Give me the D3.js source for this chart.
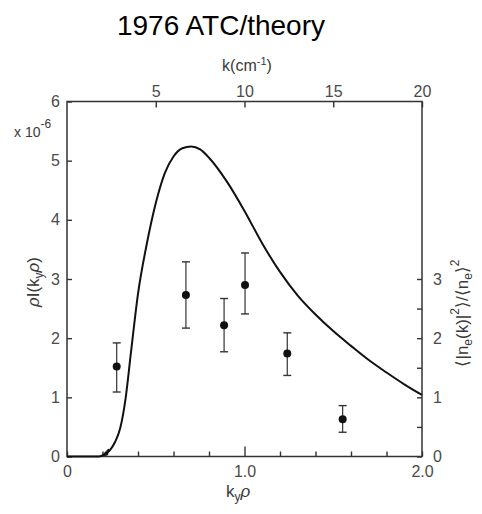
<!DOCTYPE html>
<head>
    <script src="https://cdn.jsdelivr.net/npm/d3@7"></script>
    <style>
        body { margin: 0; background: #fff; }
        .tick text { font: 16px "Liberation Sans", Arial, sans-serif; fill: #4a4a4a; }
        .tick line { stroke: #333; stroke-width: 1.4px; }
        .lbl { font-family: "Liberation Sans", Arial, sans-serif; fill: #3a3a3a; }
    </style>
</head>
<body>
<script>
    // theory curve
    var curveX = [0, 0.10, 0.18, 0.20, 0.24, 0.27, 0.30, 0.33, 0.36, 0.40, 0.45, 0.50, 0.55,
        0.60, 0.65, 0.70, 0.75, 0.80, 0.90, 1.00, 1.10, 1.20, 1.30, 1.40, 1.50, 1.60,
        1.70, 1.80, 1.90, 2.00];
    var curveY = [0, 0, 0, 0.02, 0.10, 0.24, 0.48, 0.98, 1.75, 2.75, 3.60, 4.28, 4.78,
        5.07, 5.21, 5.24, 5.19, 5.05, 4.65, 4.15, 3.60, 3.12, 2.72, 2.40, 2.12, 1.87,
        1.63, 1.42, 1.22, 1.04];

    // measured points with error bars
    var pointX = [0.28, 0.67, 0.885, 1.003, 1.241, 1.553];
    var pointY = [1.52, 2.73, 2.22, 2.90, 1.74, 0.63];
    var errHi = [1.92, 3.29, 2.67, 3.44, 2.09, 0.86];
    var errLo = [1.09, 2.17, 1.77, 2.41, 1.37, 0.41];

    var bottomTicks = [0, 0.2, 0.4, 0.6, 0.8, 1.0, 1.2, 1.4, 1.6, 1.8, 2.0];
    var bottomLabels = { "0": "0", "1": "1.0", "2": "2.0" };
    var leftTicks = [0, 1, 2, 3, 4, 5, 6];
    var rightTicks = [0, 0.5, 1, 1.5, 2, 2.5, 3];
    var topTicks = [5, 10, 15, 20];

    var W = 482, H = 514;
    var pL = 67, pR = 422, pT = 101.5, pB = 456.5;

    var svg = d3.select("body").append("svg")
        .attr("width", W)
        .attr("height", H);

    var x = d3.scaleLinear().domain([0, 2]).range([pL, pR]);
    var y = d3.scaleLinear().domain([0, 6]).range([pB, pT]);
    var k = d3.scaleLinear().domain([0, 20]).range([pL, pR]);

    // title
    svg.append("text")
        .attr("x", 221).attr("y", 35)
        .attr("text-anchor", "middle")
        .style("font", "28px 'Liberation Sans', Arial, sans-serif")
        .style("fill", "#000")
        .text("1976 ATC/theory");

    // bottom axis
    var gB = svg.append("g")
        .attr("transform", "translate(0," + pB + ")")
        .call(d3.axisBottom(x).tickValues(bottomTicks).tickSize(-5).tickSizeOuter(0).tickPadding(9)
            .tickFormat(function (d) {
                var key = String(Math.round(d * 10) / 10);
                return bottomLabels[key] || "";
            }));
    gB.selectAll(".tick line").attr("y2", function (d) { return Math.abs(d - 1) < 1e-9 ? -10 : -5; });

    // left axis
    svg.append("g")
        .attr("transform", "translate(" + pL + ",0)")
        .call(d3.axisLeft(y).tickValues(leftTicks).tickSize(-5).tickSizeOuter(0).tickPadding(7)
            .tickFormat(d3.format("d")));

    // right axis
    svg.append("g")
        .attr("transform", "translate(" + pR + ",0)")
        .call(d3.axisRight(y).tickValues(rightTicks).tickSize(-5).tickSizeOuter(0).tickPadding(11)
            .tickFormat(function (d) { return d % 1 === 0 ? d : ""; }));

    // top axis, k in cm^-1
    svg.append("g")
        .attr("transform", "translate(0," + pT + ")")
        .call(d3.axisTop(k).tickValues(topTicks).tickSize(-6).tickSizeOuter(0).tickPadding(5));

    svg.selectAll(".domain").remove();

    // frame
    svg.append("rect")
        .attr("x", pL).attr("y", pT)
        .attr("width", pR - pL).attr("height", pB - pT)
        .attr("fill", "none")
        .attr("stroke", "#333")
        .attr("stroke-width", 1.5);

    // axis titles
    var kt = svg.append("text").attr("class", "lbl")
        .attr("x", 247).attr("y", 71)
        .attr("text-anchor", "middle")
        .style("font-size", "16px");
    kt.append("tspan").text("k(cm");
    kt.append("tspan").attr("dy", -6).style("font-size", "11px").text("-1");
    kt.append("tspan").attr("dy", 6).text(")");

    var xt = svg.append("text").attr("class", "lbl")
        .attr("x", 238).attr("y", 497)
        .attr("text-anchor", "middle")
        .style("font-size", "17px");
    xt.append("tspan").text("k");
    xt.append("tspan").attr("dy", 4).style("font-size", "12px").text("y");
    xt.append("tspan").attr("dy", -4).style("font-style", "italic").text("ρ");

    var sc = svg.append("text").attr("class", "lbl")
        .attr("x", 14).attr("y", 137)
        .style("font-size", "14px");
    sc.append("tspan").text("x 10");
    sc.append("tspan").attr("dy", -9).style("font-size", "12px").text("-6");

    var yl = svg.append("text").attr("class", "lbl")
        .attr("transform", "translate(39,282) rotate(-90)")
        .attr("text-anchor", "middle")
        .style("font-size", "17px");
    yl.append("tspan").style("font-style", "italic").text("ρ");
    yl.append("tspan").text("I(k");
    yl.append("tspan").attr("dy", 4).style("font-size", "12px").text("y");
    yl.append("tspan").attr("dy", -4).style("font-style", "italic").text("ρ");
    yl.append("tspan").text(")");

    var yr = svg.append("text").attr("class", "lbl")
        .attr("transform", "translate(468,313) rotate(-90)")
        .attr("text-anchor", "middle")
        .style("font-size", "17px");
    yr.append("tspan").text("⟨|n");
    yr.append("tspan").attr("dy", 4).style("font-size", "12px").text("e");
    yr.append("tspan").attr("dy", -4).text("(k)|");
    yr.append("tspan").attr("dy", -9).style("font-size", "12px").text("2");
    yr.append("tspan").attr("dy", 9).text("⟩/⟨n");
    yr.append("tspan").attr("dy", 4).style("font-size", "12px").text("e");
    yr.append("tspan").attr("dy", -4).text("⟩");
    yr.append("tspan").attr("dy", -9).style("font-size", "12px").text("2");

    // theory curve
    var line = d3.line()
        .x(function (d, i) { return x(curveX[i]); })
        .y(function (d, i) { return y(curveY[i]); })
        .curve(d3.curveMonotoneX);

    svg.append("path")
        .datum(curveX)
        .attr("d", line)
        .attr("fill", "none")
        .attr("stroke", "#111")
        .attr("stroke-width", 2);

    // little arrowhead where the curve leaves zero
    var ax = x(0.195), ay = y(0.01);
    svg.append("path")
        .attr("d", "M" + ax + "," + ay + " l7,-7 l-1,6 z")
        .attr("fill", "#111")
        .attr("stroke", "#111")
        .attr("stroke-width", 1);

    // error bars
    var pts = svg.append("g").selectAll("g")
        .data(pointX)
        .enter().append("g");

    pts.append("line")
        .attr("x1", function (d) { return x(d); })
        .attr("x2", function (d) { return x(d); })
        .attr("y1", function (d, i) { return y(errLo[i]); })
        .attr("y2", function (d, i) { return y(errHi[i]); })
        .attr("stroke", "#333").attr("stroke-width", 1.2);

    [errLo, errHi].forEach(function (arr) {
        pts.append("line")
            .attr("x1", function (d) { return x(d) - 4; })
            .attr("x2", function (d) { return x(d) + 4; })
            .attr("y1", function (d, i) { return y(arr[i]); })
            .attr("y2", function (d, i) { return y(arr[i]); })
            .attr("stroke", "#333").attr("stroke-width", 1.4);
    });

    pts.append("circle")
        .attr("cx", function (d) { return x(d); })
        .attr("cy", function (d, i) { return y(pointY[i]); })
        .attr("r", 4)
        .attr("fill", "#111");
</script>
</body>
